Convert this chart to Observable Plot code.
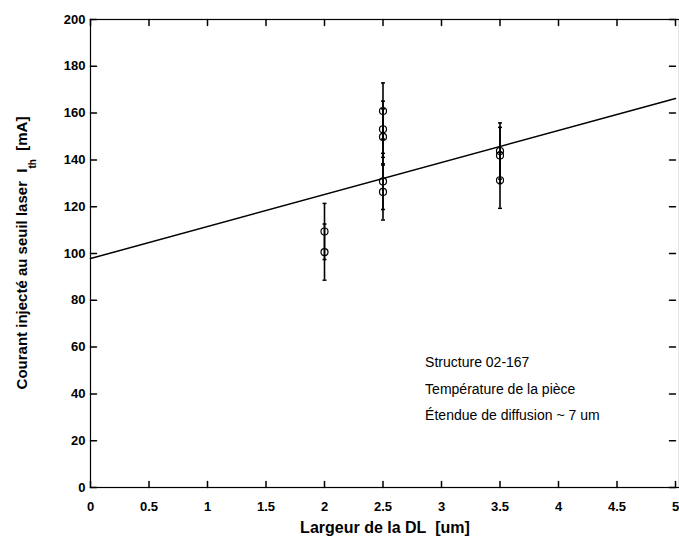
<!DOCTYPE html>
<html>
<head>
<meta charset="utf-8">
<script src="https://cdn.jsdelivr.net/npm/d3@7"></script>
<script src="https://cdn.jsdelivr.net/npm/@observablehq/plot@0.6"></script>
<style>
  html, body { margin: 0; padding: 0; background: #fff; }
  svg { display: block; }
</style>
</head>
<body>
<div id="chart"></div>
<script>
// ---- data ----
const widths   = [2, 2, 2.5, 2.5, 2.5, 2.5, 2.5, 3.5, 3.5, 3.5];          // Largeur de la DL [um]
const currents = [109.4, 100.6, 160.9, 153.1, 149.8, 130.8, 126.3, 143.8, 141.9, 131.3]; // I_th [mA]
const errors   = [12, 12, 12, 12, 12, 12, 12, 12, 12, 12];                // ± [mA]
const xTicks = [0, 0.5, 1, 1.5, 2, 2.5, 3, 3.5, 4, 4.5, 5];
const yTicks = [0, 20, 40, 60, 80, 100, 120, 140, 160, 180, 200];
const notes = ["Structure 02-167", "Température de la pièce", "Étendue de diffusion ~ 7 um"];
const xTitle = "Largeur de la DL\u00a0 [um]";
const yTitleMain = "Courant injecté au seuil laser\u00a0 I";
const yTitleSub = "th";
const yTitleEnd = "\u00a0 [mA]";

const data = widths.map((w, i) => ({w, c: currents[i], e: errors[i]}));

// least-squares fit of the measurements
const mx = d3.mean(widths), my = d3.mean(currents);
const slope = d3.sum(data, d => (d.w - mx) * (d.c - my)) / d3.sum(data, d => (d.w - mx) ** 2);
const intercept = my - slope * mx;
const fit = [xTicks[0], xTicks[xTicks.length - 1]].map(x => ({x, y: intercept + slope * x}));

// small inward tick shape and error-bar cap shape
const tickShape = {draw(ctx, l) { ctx.moveTo(0, 0); ctx.lineTo(0, -l); }};
const capSymbol = {draw(ctx, size) { const r = Math.sqrt(size / Math.PI); ctx.moveTo(-r, 0); ctx.lineTo(r, 0); }};

const font = "'Liberation Sans', Arial, Helvetica, sans-serif";
const fmt = d => String(d);

const chart = Plot.plot({
  width: 679,
  height: 536,
  marginLeft: 90,
  marginRight: 0,
  marginTop: 19,
  marginBottom: 49,
  x: {domain: [0, 5], range: [90, 675]},
  y: {domain: [0, 200], range: [487, 19]},
  style: {fontFamily: font, color: "black", background: "white"},
  marks: [
    // tick labels
    Plot.axisX(xTicks, {anchor: "bottom", tickSize: 0, tickPadding: 14, tickFormat: fmt, fontSize: 13, fontWeight: "bold", label: null}),
    Plot.axisY(yTicks, {anchor: "left", tickSize: 0, tickPadding: 5, tickFormat: fmt, fontSize: 13, fontWeight: "bold", label: null}),
    // inward ticks on all four sides
    Plot.vector(xTicks, {x: d => d, y: () => 0, length: 6, rotate: 0, anchor: "start", shape: tickShape, stroke: "black"}),
    Plot.vector(xTicks, {x: d => d, y: () => 200, length: 6, rotate: 180, anchor: "start", shape: tickShape, stroke: "black"}),
    Plot.vector(yTicks, {x: () => 0, y: d => d, length: 6, rotate: 90, anchor: "start", shape: tickShape, stroke: "black"}),
    Plot.vector(yTicks, {x: () => 5, y: d => d, length: 6, rotate: -90, anchor: "start", shape: tickShape, stroke: "black"}),
    Plot.frame({stroke: "black", strokeWidth: 1.2}),
    // regression line
    Plot.line(fit, {x: "x", y: "y", stroke: "black", strokeWidth: 1.5}),
    // error bars
    Plot.ruleX(data, {x: "w", y1: d => d.c - d.e, y2: d => d.c + d.e, stroke: "black", strokeWidth: 1.6}),
    Plot.dot(data, {x: "w", y: d => d.c - d.e, symbol: capSymbol, r: 2, stroke: "black", strokeWidth: 1.5, fill: "none"}),
    Plot.dot(data, {x: "w", y: d => d.c + d.e, symbol: capSymbol, r: 2, stroke: "black", strokeWidth: 1.5, fill: "none"}),
    // measurements
    Plot.dot(data, {x: "w", y: "c", r: 3.5, stroke: "black", strokeWidth: 1.2, fill: "none"}),
    // annotations
    Plot.text(notes, {x: () => 2.86, y: (d, i) => 53.4 - i * 11.4, text: d => d, textAnchor: "start", fontSize: 14, fill: "black"}),
    // x title
    Plot.text([xTitle], {frameAnchor: "bottom", dy: 45, lineAnchor: "bottom", text: d => d, fontSize: 16, fontWeight: "bold", fill: "black"})
  ]
});

document.getElementById("chart").append(chart);

// y title with subscript
const svg = d3.select(chart);
const yT = svg.append("text")
  .attr("transform", "translate(27,253) rotate(-90)")
  .attr("text-anchor", "middle")
  .attr("font-family", font)
  .attr("font-weight", "bold")
  .attr("font-size", 15)
  .attr("fill", "black");
yT.append("tspan").text(yTitleMain);
yT.append("tspan").attr("dy", 9).attr("font-size", 10).text(yTitleSub);
yT.append("tspan").attr("dy", -9).text(yTitleEnd);
</script>
</body>
</html>
